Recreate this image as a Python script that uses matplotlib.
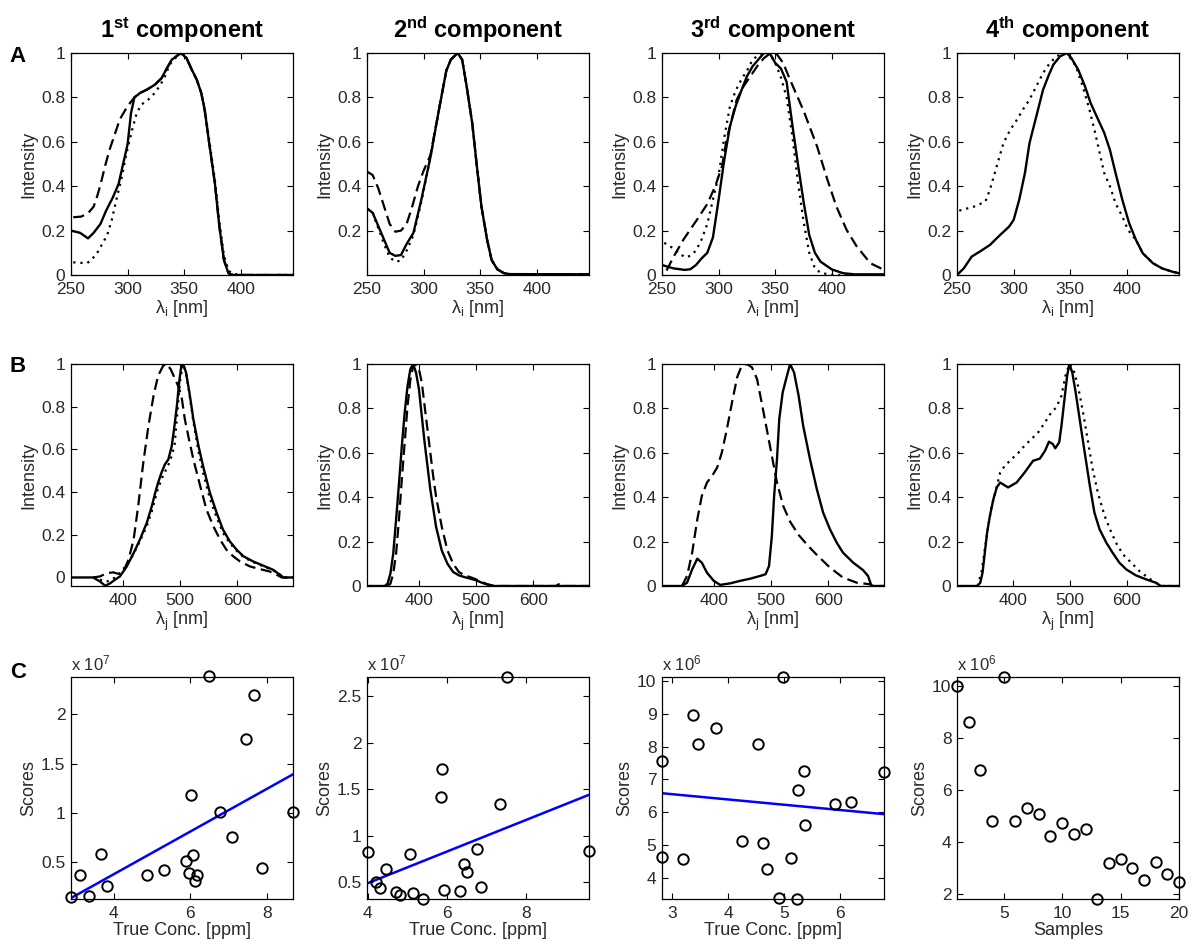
import matplotlib
matplotlib.use('Agg')
import matplotlib.pyplot as plt
import numpy as np
from matplotlib.ticker import FuncFormatter

plt.rcParams['font.family'] = ['Liberation Sans', 'DejaVu Sans']
plt.rcParams['mathtext.fontset'] = 'custom'
plt.rcParams['mathtext.rm'] = 'Liberation Sans'
plt.rcParams['mathtext.it'] = 'Liberation Sans:italic'
plt.rcParams['mathtext.bf'] = 'Liberation Sans:bold'

# ---- Row A: excitation loadings (solid / dashed / dotted) ----
a1_solid_wl = [250, 258, 265, 270, 276, 281, 287, 292, 296, 300, 303, 306, 311, 317, 324, 330, 334, 339, 343, 347,
               352, 356, 361, 365, 368, 372, 377, 381, 385, 389, 393, 446]
a1_solid = [0.2, 0.19, 0.165, 0.19, 0.23, 0.29, 0.35, 0.41, 0.5, 0.59, 0.73, 0.8, 0.82, 0.835, 0.857, 0.887, 0.925,
            0.97, 0.985, 1.0, 0.977, 0.932, 0.88, 0.82, 0.744, 0.594, 0.414, 0.218, 0.068, 0.008, 0.0, 0.0]
a1_dash_wl = [252, 259, 265, 270, 273, 276, 280, 284, 289, 293, 298, 302, 306, 311, 317, 324, 330, 334, 339, 343,
              347, 352, 356, 361, 365, 368, 372, 377, 381, 385, 389, 393, 446]
a1_dash = [0.26, 0.263, 0.278, 0.308, 0.353, 0.406, 0.489, 0.564, 0.639, 0.7, 0.744, 0.774, 0.8, 0.82, 0.835, 0.857,
           0.887, 0.925, 0.97, 0.985, 1.0, 0.977, 0.932, 0.88, 0.82, 0.744, 0.594, 0.414, 0.218, 0.068, 0.008, 0.0, 0.0]
a1_dot_wl = [252, 264, 268, 273, 277, 282, 286, 290, 295, 299, 304, 308, 312, 318, 324, 329, 333, 337, 342, 348,
             352, 356, 361, 365, 368, 372, 377, 381, 385, 389, 393, 400, 446]
a1_dot = [0.057, 0.053, 0.068, 0.098, 0.135, 0.18, 0.248, 0.338, 0.444, 0.549, 0.654, 0.729, 0.767, 0.789, 0.82,
          0.857, 0.895, 0.947, 0.977, 1.0, 0.977, 0.93, 0.88, 0.82, 0.75, 0.61, 0.43, 0.24, 0.09, 0.02, 0.005, 0.0, 0.0]

a2_solid_wl = [250, 255, 260, 265, 270, 275, 280, 285, 291, 298, 306, 313, 320, 324, 330, 334, 338, 343, 347, 351,
               356, 360, 365, 371, 376, 446]
a2_solid = [0.30, 0.28, 0.22, 0.16, 0.10, 0.086, 0.09, 0.14, 0.19, 0.34, 0.53, 0.73, 0.92, 0.97, 1.0, 0.97, 0.85,
            0.68, 0.49, 0.31, 0.16, 0.068, 0.026, 0.008, 0.004, 0.003]
a2_dash_wl = [250, 255, 260, 265, 270, 275, 280, 285, 290, 295, 300, 306, 313, 320, 324, 330, 334, 338, 343, 347,
              351, 356, 360, 365, 371, 376, 446]
a2_dash = [0.466, 0.45, 0.39, 0.31, 0.23, 0.195, 0.20, 0.23, 0.31, 0.40, 0.47, 0.54, 0.73, 0.92, 0.97, 1.0, 0.97,
           0.85, 0.68, 0.49, 0.31, 0.16, 0.068, 0.026, 0.008, 0.004, 0.003]
a2_dot_wl = [250, 255, 260, 265, 270, 275, 280, 285, 291, 298, 306, 313, 320, 324, 330, 334, 338, 343, 347, 351,
             356, 360, 365, 371, 376, 446]
a2_dot = [0.30, 0.28, 0.21, 0.14, 0.08, 0.06, 0.065, 0.11, 0.18, 0.33, 0.53, 0.73, 0.92, 0.97, 1.0, 0.97, 0.85,
          0.68, 0.49, 0.31, 0.16, 0.068, 0.026, 0.008, 0.004, 0.003]

a3_solid_wl = [250, 260, 270, 275, 280, 285, 290, 295, 300, 305, 310, 315, 320, 325, 330, 335, 340, 345, 350, 355,
               360, 365, 370, 375, 380, 385, 390, 400, 410, 420, 446]
a3_solid = [0.045, 0.03, 0.023, 0.026, 0.045, 0.075, 0.10, 0.17, 0.34, 0.52, 0.67, 0.76, 0.83, 0.895, 0.94, 0.97,
            1.0, 1.0, 0.955, 0.93, 0.87, 0.68, 0.50, 0.33, 0.18, 0.10, 0.06, 0.025, 0.008, 0.003, 0.003]
a3_dash_wl = [254, 260, 269, 281, 290, 297, 303, 307, 312, 316, 322, 328, 334, 340, 346, 351, 357, 363, 375, 387,
              396, 404, 413, 422, 434, 446]
a3_dash = [0.02, 0.08, 0.16, 0.25, 0.32, 0.40, 0.49, 0.61, 0.71, 0.79, 0.85, 0.895, 0.94, 0.977, 1.0, 0.997, 0.955,
           0.88, 0.74, 0.578, 0.43, 0.308, 0.203, 0.128, 0.053, 0.023]
a3_dot_wl = [252, 260, 270, 275, 280, 285, 290, 295, 300, 305, 310, 315, 320, 325, 330, 335, 340, 345, 350, 355,
             360, 365, 370, 375, 380, 385, 390, 400, 446]
a3_dot = [0.145, 0.12, 0.08, 0.086, 0.11, 0.16, 0.23, 0.34, 0.45, 0.62, 0.76, 0.83, 0.88, 0.92, 0.97, 0.99, 1.0,
          1.0, 0.955, 0.89, 0.80, 0.63, 0.42, 0.24, 0.10, 0.03, 0.01, 0.0, 0.0]

a4_solid_wl = [250, 256, 263, 270, 279, 288, 296, 300, 305, 310, 314, 320, 326, 331, 335, 341, 347, 351, 357, 363,
               368, 374, 380, 385, 390, 396, 402, 408, 414, 423, 431, 440, 446]
a4_solid = [0.0, 0.03, 0.083, 0.105, 0.135, 0.18, 0.218, 0.248, 0.34, 0.46, 0.594, 0.714, 0.835, 0.9, 0.947, 0.985,
            1.0, 0.977, 0.925, 0.85, 0.774, 0.707, 0.64, 0.564, 0.459, 0.338, 0.233, 0.158, 0.098, 0.053, 0.03,
            0.015, 0.008]
a4_dot_wl = [252, 265, 275, 279, 285, 291, 297, 303, 308, 314, 320, 326, 332, 338, 344, 349, 355, 361, 367, 372,
             376, 380, 385, 390, 396, 401, 408, 414, 423, 431, 440, 446]
a4_dot = [0.29, 0.308, 0.33, 0.383, 0.489, 0.594, 0.654, 0.70, 0.744, 0.79, 0.85, 0.91, 0.955, 0.985, 1.0, 0.985,
          0.94, 0.85, 0.744, 0.64, 0.549, 0.459, 0.40, 0.323, 0.263, 0.203, 0.158, 0.098, 0.053, 0.03, 0.015, 0.008]

# ---- Row B: emission loadings ----
b1_solid_wl = [308, 347, 359, 368, 377, 385, 394, 406, 418, 429, 441, 450, 456, 461, 467, 473, 479, 485, 489, 494,
               498, 501, 505, 510, 516, 523, 532, 540, 552, 564, 575, 587, 599, 611, 628, 646, 663, 675, 681, 698]
b1_solid = [0, 0, -0.019, -0.039, -0.027, -0.011, 0.005, 0.052, 0.114, 0.177, 0.255, 0.334, 0.397, 0.444, 0.491,
            0.53, 0.553, 0.616, 0.694, 0.804, 0.914, 0.976, 1.0, 0.961, 0.867, 0.741, 0.616, 0.522, 0.397, 0.302,
            0.224, 0.169, 0.13, 0.099, 0.075, 0.055, 0.036, 0.013, 0, 0]
b1_dash_wl = [347, 359, 371, 382, 391, 400, 409, 418, 426, 435, 444, 453, 461, 470, 476, 483, 491, 496, 502, 508,
              514, 523, 535, 546, 558, 570, 581, 593, 605, 622, 640, 657, 669, 678, 698]
b1_dash = [0, 0.005, 0.02, 0.024, 0.017, 0.028, 0.083, 0.177, 0.334, 0.538, 0.71, 0.851, 0.945, 0.992, 1.0, 0.976,
           0.929, 0.898, 0.851, 0.741, 0.663, 0.553, 0.428, 0.318, 0.24, 0.177, 0.13, 0.099, 0.075, 0.052, 0.039,
           0.028, 0.013, 0, 0]
b1_dot_wl = [347, 359, 368, 377, 385, 394, 406, 418, 429, 441, 450, 460, 470, 478, 485, 490, 495, 500, 505, 510,
             516, 523, 532, 540, 552, 564, 575, 587, 599, 611, 628, 646, 663, 675, 681, 698]
b1_dot = [0, -0.01, -0.02, -0.015, 0.0, 0.02, 0.06, 0.11, 0.17, 0.24, 0.31, 0.41, 0.48, 0.52, 0.57, 0.62, 0.78,
          0.93, 1.0, 0.96, 0.86, 0.73, 0.59, 0.49, 0.37, 0.28, 0.21, 0.16, 0.125, 0.095, 0.072, 0.052, 0.034, 0.013,
          0, 0]

b2_solid_wl = [309, 340, 345, 350, 355, 360, 365, 370, 375, 380, 385, 390, 395, 400, 405, 410, 415, 420, 430, 440,
               450, 460, 470, 480, 490, 500, 510, 520, 530, 698]
b2_solid = [0, 0, 0.01, 0.056, 0.146, 0.3, 0.46, 0.63, 0.78, 0.9, 0.977, 1.0, 0.96, 0.887, 0.766, 0.645, 0.54,
            0.434, 0.267, 0.16, 0.10, 0.063, 0.048, 0.04, 0.033, 0.026, 0.015, 0.006, 0, 0]
b2_dash_wl = [345, 350, 355, 360, 365, 370, 375, 380, 385, 390, 395, 400, 405, 410, 415, 420, 425, 430, 440, 450,
              460, 470, 480, 490, 500, 510, 520, 530, 540, 640, 645, 650, 698]
b2_dash = [0, 0.01, 0.056, 0.146, 0.3, 0.48, 0.645, 0.81, 0.93, 0.99, 1.0, 0.977, 0.917, 0.81, 0.705, 0.60, 0.494,
           0.403, 0.267, 0.16, 0.10, 0.063, 0.048, 0.04, 0.03, 0.018, 0.008, 0.002, 0, 0, 0.008, 0, 0]

b3_solid_wl = [308, 343, 352, 361, 370, 378, 387, 399, 410, 428, 445, 463, 480, 490, 496, 501, 505, 510, 514, 520,
               526, 533, 540, 548, 556, 568, 580, 591, 603, 615, 626, 644, 661, 670, 676, 698]
b3_solid = [0, 0, 0.015, 0.075, 0.123, 0.105, 0.06, 0.023, 0.005, 0.012, 0.023, 0.033, 0.045, 0.053, 0.09, 0.226,
            0.406, 0.571, 0.752, 0.872, 0.932, 1.0, 0.962, 0.857, 0.722, 0.571, 0.436, 0.331, 0.256, 0.195, 0.15,
            0.105, 0.072, 0.045, 0, 0]
b3_dash_wl = [343, 352, 361, 370, 378, 387, 396, 405, 413, 422, 431, 440, 448, 457, 466, 475, 483, 492, 501, 510,
              521, 533, 548, 565, 580, 603, 626, 650, 673, 679, 698]
b3_dash = [0, 0.045, 0.15, 0.30, 0.406, 0.466, 0.496, 0.534, 0.60, 0.707, 0.827, 0.94, 0.992, 1.0, 0.985, 0.932,
           0.827, 0.707, 0.586, 0.466, 0.36, 0.29, 0.23, 0.18, 0.14, 0.083, 0.038, 0.015, 0.008, 0, 0]

b4_solid_wl = [301, 337, 342, 346, 350, 354, 359, 365, 371, 377, 391, 406, 420, 435, 447, 456, 463, 470, 474, 481,
               485, 491, 495, 499, 504, 510, 517, 526, 535, 543, 552, 564, 575, 587, 599, 616, 634, 651, 660, 692]
b4_solid = [0, 0, 0.015, 0.06, 0.15, 0.24, 0.316, 0.39, 0.444, 0.466, 0.444, 0.466, 0.511, 0.564, 0.574, 0.609,
            0.65, 0.639, 0.62, 0.647, 0.722, 0.857, 0.947, 1.0, 0.962, 0.872, 0.752, 0.60, 0.451, 0.331, 0.256,
            0.195, 0.15, 0.105, 0.075, 0.048, 0.03, 0.015, 0, 0]
b4_dot_wl = [337, 344, 350, 356, 362, 370, 377, 385, 397, 409, 420, 432, 444, 456, 467, 476, 485, 492, 499, 506,
             514, 523, 532, 540, 549, 561, 573, 584, 596, 608, 622, 637, 651, 663, 692]
b4_dot = [0, 0.06, 0.165, 0.27, 0.36, 0.436, 0.511, 0.541, 0.571, 0.60, 0.632, 0.662, 0.692, 0.737, 0.782, 0.805,
          0.857, 0.947, 1.0, 0.977, 0.902, 0.782, 0.647, 0.526, 0.421, 0.316, 0.24, 0.18, 0.135, 0.105, 0.068,
          0.038, 0.015, 0, 0]

# ---- Row C: scores ----
c1_conc = [2.88, 3.11, 3.35, 3.67, 3.83, 4.86, 5.32, 5.88, 5.97, 6.06, 6.01, 6.11, 6.16, 6.49, 6.78, 7.09, 7.46,
           7.66, 7.87, 8.68]
c1_scores = [0.15, 0.375, 0.162, 0.584, 0.264, 0.375, 0.426, 0.51, 0.392, 0.571, 1.182, 0.307, 0.368, 2.385, 1.007,
             0.753, 1.75, 2.2, 0.446, 1.01]  # x 1e7
c2_conc = [4.0, 4.22, 4.32, 4.47, 4.72, 4.82, 5.06, 5.15, 5.40, 5.93, 5.86, 5.89, 6.34, 6.44, 6.5, 6.76, 6.87, 7.34,
           7.53, 9.6]
c2_scores = [0.821, 0.5, 0.436, 0.639, 0.393, 0.361, 0.8, 0.379, 0.318, 0.414, 1.418, 1.718, 0.4, 0.693, 0.607,
             0.857, 0.45, 1.336, 2.7, 0.836]  # x 1e7
c3_conc = [2.82, 2.82, 3.20, 3.37, 3.47, 3.79, 4.25, 4.53, 4.63, 4.70, 4.91, 4.97, 5.12, 5.23, 5.25, 5.35, 5.37,
           5.91, 6.19, 6.78]
c3_scores = [7.57, 4.63, 4.57, 8.97, 8.08, 8.55, 5.11, 8.08, 5.07, 4.26, 3.38, 10.12, 4.60, 3.35, 6.67, 7.26, 5.62,
             6.25, 6.30, 7.23]  # x 1e6
c4_sample = list(range(1, 21))
c4_scores = [10.01, 8.63, 6.77, 4.79, 10.36, 4.79, 5.32, 5.06, 4.24, 4.72, 4.28, 4.5, 1.79, 3.17, 3.33, 2.99, 2.53,
             3.22, 2.74, 2.44]  # x 1e6

titles = ['1$^{\\mathbf{st}}$ component', '2$^{\\mathbf{nd}}$ component',
          '3$^{\\mathbf{rd}}$ component', '4$^{\\mathbf{th}}$ component']

W, H = 1192, 948
fig = plt.figure(figsize=(W / 100, H / 100), dpi=100)
col_left = [71, 367, 662, 957]
row_top = [53, 364, 677]
TXT = '#2a2a2a'

SOLID = dict(color='k', lw=1.7, ls='-')
DASH = dict(color='k', lw=1.6, ls=(0, (5, 2.5)))
DOT = dict(color='k', lw=1.6, ls=(0, (1, 2.2)))


def make_axes(col, row):
    ax = fig.add_axes([col_left[col] / W, 1 - (row_top[row] + 222) / H, 222 / W, 222 / H])
    ax.tick_params(direction='in', top=True, right=True, length=4, width=0.8, labelsize=12.5,
                   labelcolor=TXT)
    ax.tick_params(axis='x', pad=5)
    ax.tick_params(axis='y', pad=4)
    for s in ax.spines.values():
        s.set_linewidth(0.9)
    fmt = FuncFormatter(lambda v, p: f'{v:g}')
    ax.xaxis.set_major_formatter(fmt)
    ax.yaxis.set_major_formatter(fmt)
    return ax


row_a = [
    [(a1_solid_wl, a1_solid, SOLID), (a1_dash_wl, a1_dash, DASH), (a1_dot_wl, a1_dot, DOT)],
    [(a2_solid_wl, a2_solid, SOLID), (a2_dash_wl, a2_dash, DASH), (a2_dot_wl, a2_dot, DOT)],
    [(a3_solid_wl, a3_solid, SOLID), (a3_dash_wl, a3_dash, DASH), (a3_dot_wl, a3_dot, DOT)],
    [(a4_solid_wl, a4_solid, SOLID), (a4_dot_wl, a4_dot, DOT)],
]
row_b = [
    [(b1_solid_wl, b1_solid, SOLID), (b1_dash_wl, b1_dash, DASH), (b1_dot_wl, b1_dot, DOT)],
    [(b2_solid_wl, b2_solid, SOLID), (b2_dash_wl, b2_dash, DASH)],
    [(b3_solid_wl, b3_solid, SOLID), (b3_dash_wl, b3_dash, DASH)],
    [(b4_solid_wl, b4_solid, SOLID), (b4_dot_wl, b4_dot, DOT)],
]
b_xlim = [(308, 698), (309, 698), (308, 698), (301, 692)]
b_ylim = [(-0.04, 1), (0, 1), (0, 1), (0, 1)]

for i in range(4):
    ax = make_axes(i, 0)
    for wl, y, st in row_a[i]:
        ax.plot(wl, y, **st)
    ax.set_xlim(250, 446)
    ax.set_ylim(0, 1)
    ax.set_xticks([250, 300, 350, 400])
    ax.set_yticks([0.2, 0.4, 0.6, 0.8, 1] if i == 1 else [0, 0.2, 0.4, 0.6, 0.8, 1])
    ax.set_xlabel('λ$_\\mathrm{i}$ [nm]', fontsize=13, color=TXT, labelpad=1)
    ax.set_ylabel('Intensity', fontsize=13, color=TXT, labelpad=3)
    fig.text((col_left[i] + 111) / W, 1 - 30 / H, titles[i], fontsize=17, fontweight='bold',
             ha='center', va='center')

for i in range(4):
    ax = make_axes(i, 1)
    for wl, y, st in row_b[i]:
        ax.plot(wl, y, **st)
    ax.set_xlim(*b_xlim[i])
    ax.set_ylim(*b_ylim[i])
    ax.set_xticks([400, 500, 600])
    ax.set_yticks([0, 0.2, 0.4, 0.6, 0.8, 1])
    ax.set_xlabel('λ$_\\mathrm{j}$ [nm]', fontsize=13, color=TXT, labelpad=1)
    ax.set_ylabel('Intensity', fontsize=13, color=TXT, labelpad=3)

row_c = [
    (c1_conc, c1_scores, True, (2.88, 8.68), (0.128, 2.378), [4, 6, 8], [0.5, 1, 1.5, 2], 7, 'True Conc. [ppm]'),
    (c2_conc, c2_scores, True, (3.98, 9.6), (0.318, 2.704), [4, 6, 8], [0.5, 1, 1.5, 2, 2.5], 7, 'True Conc. [ppm]'),
    (c3_conc, c3_scores, True, (2.82, 6.78), (3.35, 10.12), [3, 4, 5, 6], [4, 5, 6, 7, 8, 9, 10], 6,
     'True Conc. [ppm]'),
    (c4_sample, c4_scores, False, (1, 20), (1.79, 10.36), [5, 10, 15, 20], [2, 4, 6, 8, 10], 6, 'Samples'),
]
for i, (x, y, fit, xl, yl, xt, yt, expo, xlab) in enumerate(row_c):
    ax = make_axes(i, 2)
    x = np.array(x, dtype=float)
    y = np.array(y, dtype=float)
    if fit:
        coef = np.polyfit(x, y, 1)
        xs = np.array(xl)
        ax.plot(xs, np.polyval(coef, xs), color='#0000ff', lw=1.8)
    ax.plot(x, y, 'o', mfc='none', mec='k', ms=7.5, mew=1.4, clip_on=False, zorder=3)
    ax.set_xlim(*xl)
    ax.set_ylim(*yl)
    ax.set_xticks(xt)
    ax.set_yticks(yt)
    ax.set_xlabel(xlab, fontsize=13, color=TXT, labelpad=1)
    ax.set_ylabel('Scores', fontsize=13, color=TXT, labelpad=3)
    ax.text(0, 1.018, 'x 10$^{%d}$' % expo, transform=ax.transAxes, ha='left', va='bottom',
            fontsize=12, color=TXT)

for letter, ypix in [('A', 57), ('B', 366), ('C', 673)]:
    fig.text(18 / W, 1 - ypix / H, letter, fontsize=16, fontweight='bold', ha='center', va='center')

fig.savefig('out.png', dpi=100)
